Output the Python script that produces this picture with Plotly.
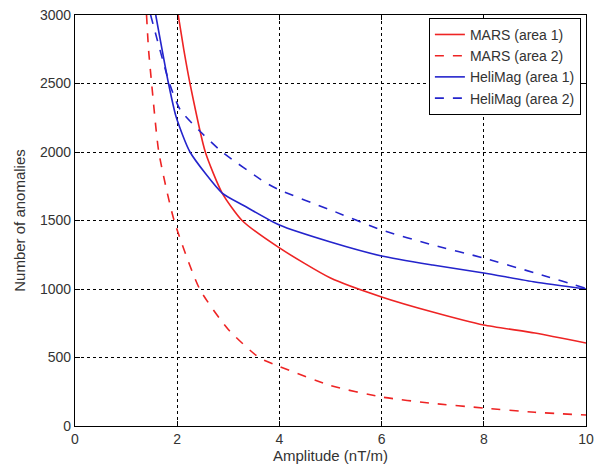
import plotly.graph_objects as go

# Data
mars1_x = [2.02, 2.13, 2.25, 2.55, 2.88, 3.27, 4, 5, 6, 7, 8, 9, 10]
mars1_y = [3000, 2745, 2500, 2000, 1700, 1500, 1300, 1080, 942, 832, 737, 679, 606]

mars2_x = [1.40, 1.44, 1.5, 1.64, 1.94, 2.44, 3.0, 3.6, 4, 5, 6, 7, 8, 9, 10]
mars2_y = [3000, 2745, 2500, 2000, 1500, 1000, 705, 500, 435, 295, 212, 165, 131, 100, 80]

heli1_x = [1.58, 1.83, 1.98, 2.25, 2.88, 3.3, 4, 5, 6, 7, 8, 9, 10]
heli1_y = [3000, 2500, 2255, 2000, 1700, 1610, 1467, 1343, 1241, 1175, 1117, 1051, 1000]

heli2_x = [1.48, 1.85, 2.06, 2.46, 2.88, 3.71, 4, 5, 6, 7, 8, 9, 10]
heli2_y = [3000, 2500, 2307, 2146, 2000, 1781, 1723, 1577, 1431, 1321, 1226, 1117, 1005]

x_ticks = [0, 2, 4, 6, 8, 10]
y_ticks = [0, 500, 1000, 1500, 2000, 2500, 3000]

series = [
    ("MARS (area 1)", mars1_x, mars1_y, "#ee2424", "solid"),
    ("MARS (area 2)", mars2_x, mars2_y, "#ee2424", "dash"),
    ("HeliMag (area 1)", heli1_x, heli1_y, "#2424cc", "solid"),
    ("HeliMag (area 2)", heli2_x, heli2_y, "#2424cc", "dash"),
]

FONT = "Liberation Sans, Arial"

fig = go.Figure()
for name, xs, ys, col, dash in series:
    fig.add_trace(go.Scatter(
        x=xs, y=ys, mode="lines", name=name,
        line=dict(color=col, dash=dash, width=1.6, shape="spline", smoothing=0.6),
    ))

axis_common = dict(
    showline=True, linecolor="black", linewidth=1.2, mirror="ticks",
    ticks="inside", ticklen=5, tickcolor="black",
    showgrid=True, gridcolor="black", gridwidth=1, griddash="dot",
    zeroline=False, ticklabeloverflow="allow",
    tickfont=dict(family=FONT, size=14, color="#333"),
    title_font=dict(family=FONT, size=15, color="#333"),
)

fig.update_layout(
    width=600, height=465,
    margin=dict(l=75, r=6, t=15, b=39),
    paper_bgcolor="white", plot_bgcolor="white",
    showlegend=True,
    legend=dict(
        x=0.990, y=0.993, xanchor="right", yanchor="top",
        bgcolor="white", bordercolor="black", borderwidth=1,
        font=dict(family=FONT, size=14, color="#333"),
        tracegroupgap=0, itemwidth=30,
    ),
    xaxis=dict(range=[0, 10], tickmode="array", tickvals=x_ticks,
               title=dict(text="Amplitude (nT/m)", standoff=1), **axis_common),
    yaxis=dict(range=[0, 3000], tickmode="array", tickvals=y_ticks,
               title=dict(text="Number of anomalies", standoff=10), **axis_common),
)

fig.write_html("out.html")
